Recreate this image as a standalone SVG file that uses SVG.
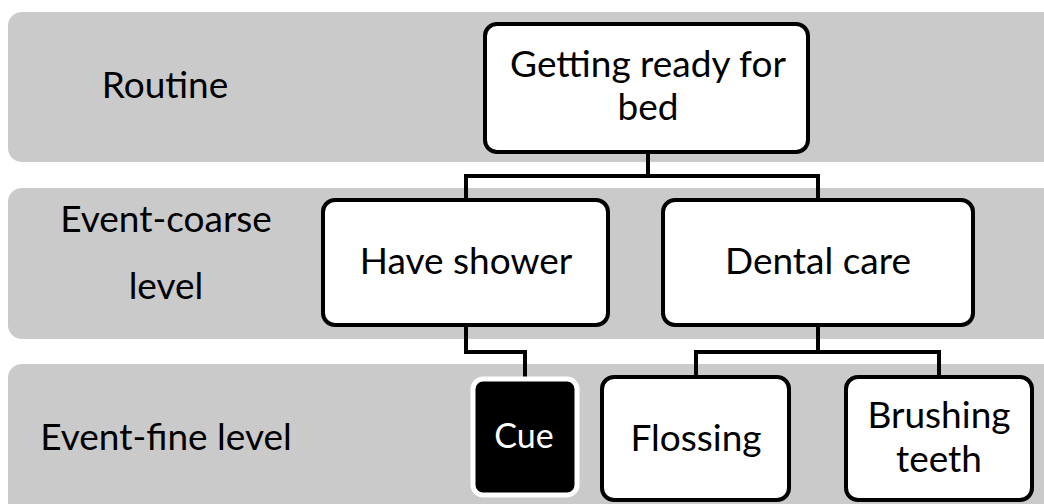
<svg xmlns="http://www.w3.org/2000/svg" width="1044" height="504" viewBox="0 0 1044 504">
  <style>
    .band { fill: #cacaca; }
    .node { fill: #ffffff; stroke: #000000; stroke-width: 4; }
    .cue { fill: #000000; stroke: #ffffff; stroke-width: 5; }
    .lbl { font-family: Lato, "Open Sans", sans-serif; font-size: 37px; fill: #000000; text-anchor: middle; }
    .lbl-inv { fill: #ffffff; font-size: 34px; }
    .wire { fill: none; stroke: #000000; stroke-width: 4; stroke-linejoin: miter; }
  </style>

  <!-- level bands -->
  <g id="bands">
    <rect class="band" x="8" y="12" width="1060" height="150" rx="14"/>
    <rect class="band" x="8" y="188" width="1060" height="151" rx="14"/>
    <rect class="band" x="8" y="364" width="1060" height="160" rx="14"/>
  </g>

  <!-- level labels -->
  <g id="level-labels">
    <text class="lbl" x="165" y="98">Routine</text>
    <text class="lbl" x="166" y="232">Event-coarse</text>
    <text class="lbl" x="166" y="299">level</text>
    <text class="lbl" x="166" y="450">Event-fine level</text>
  </g>

  <!-- connectors -->
  <g id="connectors">
    <path class="wire" d="M648 152 V176 M466 176 H818 M466 174 V200 M818 174 V200"/>
    <path class="wire" d="M466 325 V352 H525 V378"/>
    <path class="wire" d="M818 325 V352 M696 352 H939 M696 350 V377 M939 350 V377"/>
  </g>

  <g id="node-root">
    <rect class="node" x="485" y="24" width="323" height="128" rx="12"/>
    <text class="lbl" x="648" y="77">Getting ready for</text>
    <text class="lbl" x="648" y="120">bed</text>
  </g>

  <g id="node-shower">
    <rect class="node" x="323" y="200" width="285" height="125" rx="12"/>
    <text class="lbl" x="466" y="274">Have shower</text>
  </g>

  <g id="node-dental">
    <rect class="node" x="663" y="200" width="310" height="125" rx="12"/>
    <text class="lbl" x="818" y="274">Dental care</text>
  </g>

  <g id="node-cue">
    <rect class="cue" x="473" y="379" width="104" height="116" rx="10"/>
    <text class="lbl lbl-inv" x="524" y="448">Cue</text>
  </g>

  <g id="node-flossing">
    <rect class="node" x="602" y="377" width="187" height="123" rx="12"/>
    <text class="lbl" x="696" y="451">Flossing</text>
  </g>

  <g id="node-brushing">
    <rect class="node" x="846" y="377" width="186" height="123" rx="12"/>
    <text class="lbl" x="939" y="428">Brushing</text>
    <text class="lbl" x="939" y="472">teeth</text>
  </g>
</svg>
